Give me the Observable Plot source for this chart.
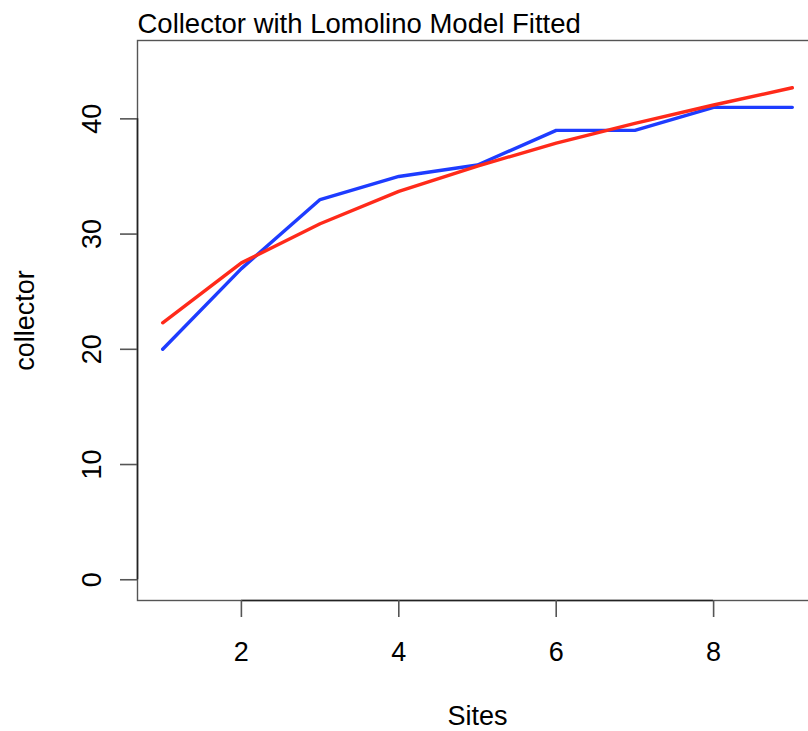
<!DOCTYPE html>
<html>
<head>
<meta charset="utf-8">
<script src="https://cdn.jsdelivr.net/npm/d3@7"></script>
<script src="https://cdn.jsdelivr.net/npm/@observablehq/plot@0.6"></script>
<style>
  html, body { margin: 0; padding: 0; background: #fff; }
  #chart { width: 808px; height: 731px; overflow: hidden; }
</style>
</head>
<body>
<div id="chart"></div>
<script>
const sites = [1, 2, 3, 4, 5, 6, 7, 8, 9];
const collector = [20, 27, 33, 35, 36, 39, 39, 41, 41];
const lomolino = [22.3, 27.5, 30.9, 33.7, 35.9, 37.9, 39.6, 41.2, 42.7];
const xTicks = [2, 4, 6, 8];
const yTicks = [0, 10, 20, 30, 40];
const title = "Collector with Lomolino Model Fitted";
const xLabel = "Sites";
const yLabel = "collector";

const obs = sites.map((s, i) => ({site: s, value: collector[i]}));
const fit = sites.map((s, i) => ({site: s, value: lomolino[i]}));

const xDomain = [0.68, 9.32];
const yDomain = [-1.8, 46.8];
const font = "'Liberation Sans', Arial, Helvetica, sans-serif";

const chart = Plot.plot({
  width: 808,
  height: 731,
  marginLeft: 137,
  marginRight: -9,
  marginTop: 40,
  marginBottom: 131,
  style: {fontFamily: font, fontSize: "27px", background: "#fff", color: "#000"},
  x: {domain: xDomain},
  y: {domain: yDomain},
  marks: [
    Plot.frame({stroke: "#555", strokeWidth: 1.4}),
    Plot.ruleY([yDomain[0]], {x1: xTicks[0], x2: xTicks[xTicks.length - 1], stroke: "#222", strokeWidth: 1.6}),
    Plot.ruleX([xDomain[0]], {y1: yTicks[0], y2: yTicks[yTicks.length - 1], stroke: "#222", strokeWidth: 1.6}),
    Plot.axisX({ticks: xTicks, tickSize: 17, tickPadding: 24, fontSize: 27, label: null, stroke: "#555", strokeWidth: 1.6, fill: "#000"}),
    Plot.axisY({ticks: yTicks, tickSize: 17, tickPadding: 20, fontSize: 27, label: null, tickRotate: -90, textAnchor: "middle", lineAnchor: "bottom", stroke: "#555", strokeWidth: 1.6, fill: "#000"}),
    Plot.line(obs, {x: "site", y: "value", stroke: "#1e3cff", strokeWidth: 3.4}),
    Plot.line(fit, {x: "site", y: "value", stroke: "#ff2a1a", strokeWidth: 3.4}),
    Plot.text([title], {frameAnchor: "top-left", textAnchor: "start", lineAnchor: "bottom", dy: -8, fontSize: 27.5, fill: "#000"}),
    Plot.text([xLabel], {frameAnchor: "bottom", textAnchor: "middle", lineAnchor: "bottom", dy: 124, fontSize: 27, fill: "#000"}),
    Plot.text([yLabel], {frameAnchor: "left", textAnchor: "middle", lineAnchor: "bottom", rotate: -90, dx: -104, fontSize: 27, fill: "#000"})
  ]
});
document.getElementById("chart").appendChild(chart);
</script>
</body>
</html>
